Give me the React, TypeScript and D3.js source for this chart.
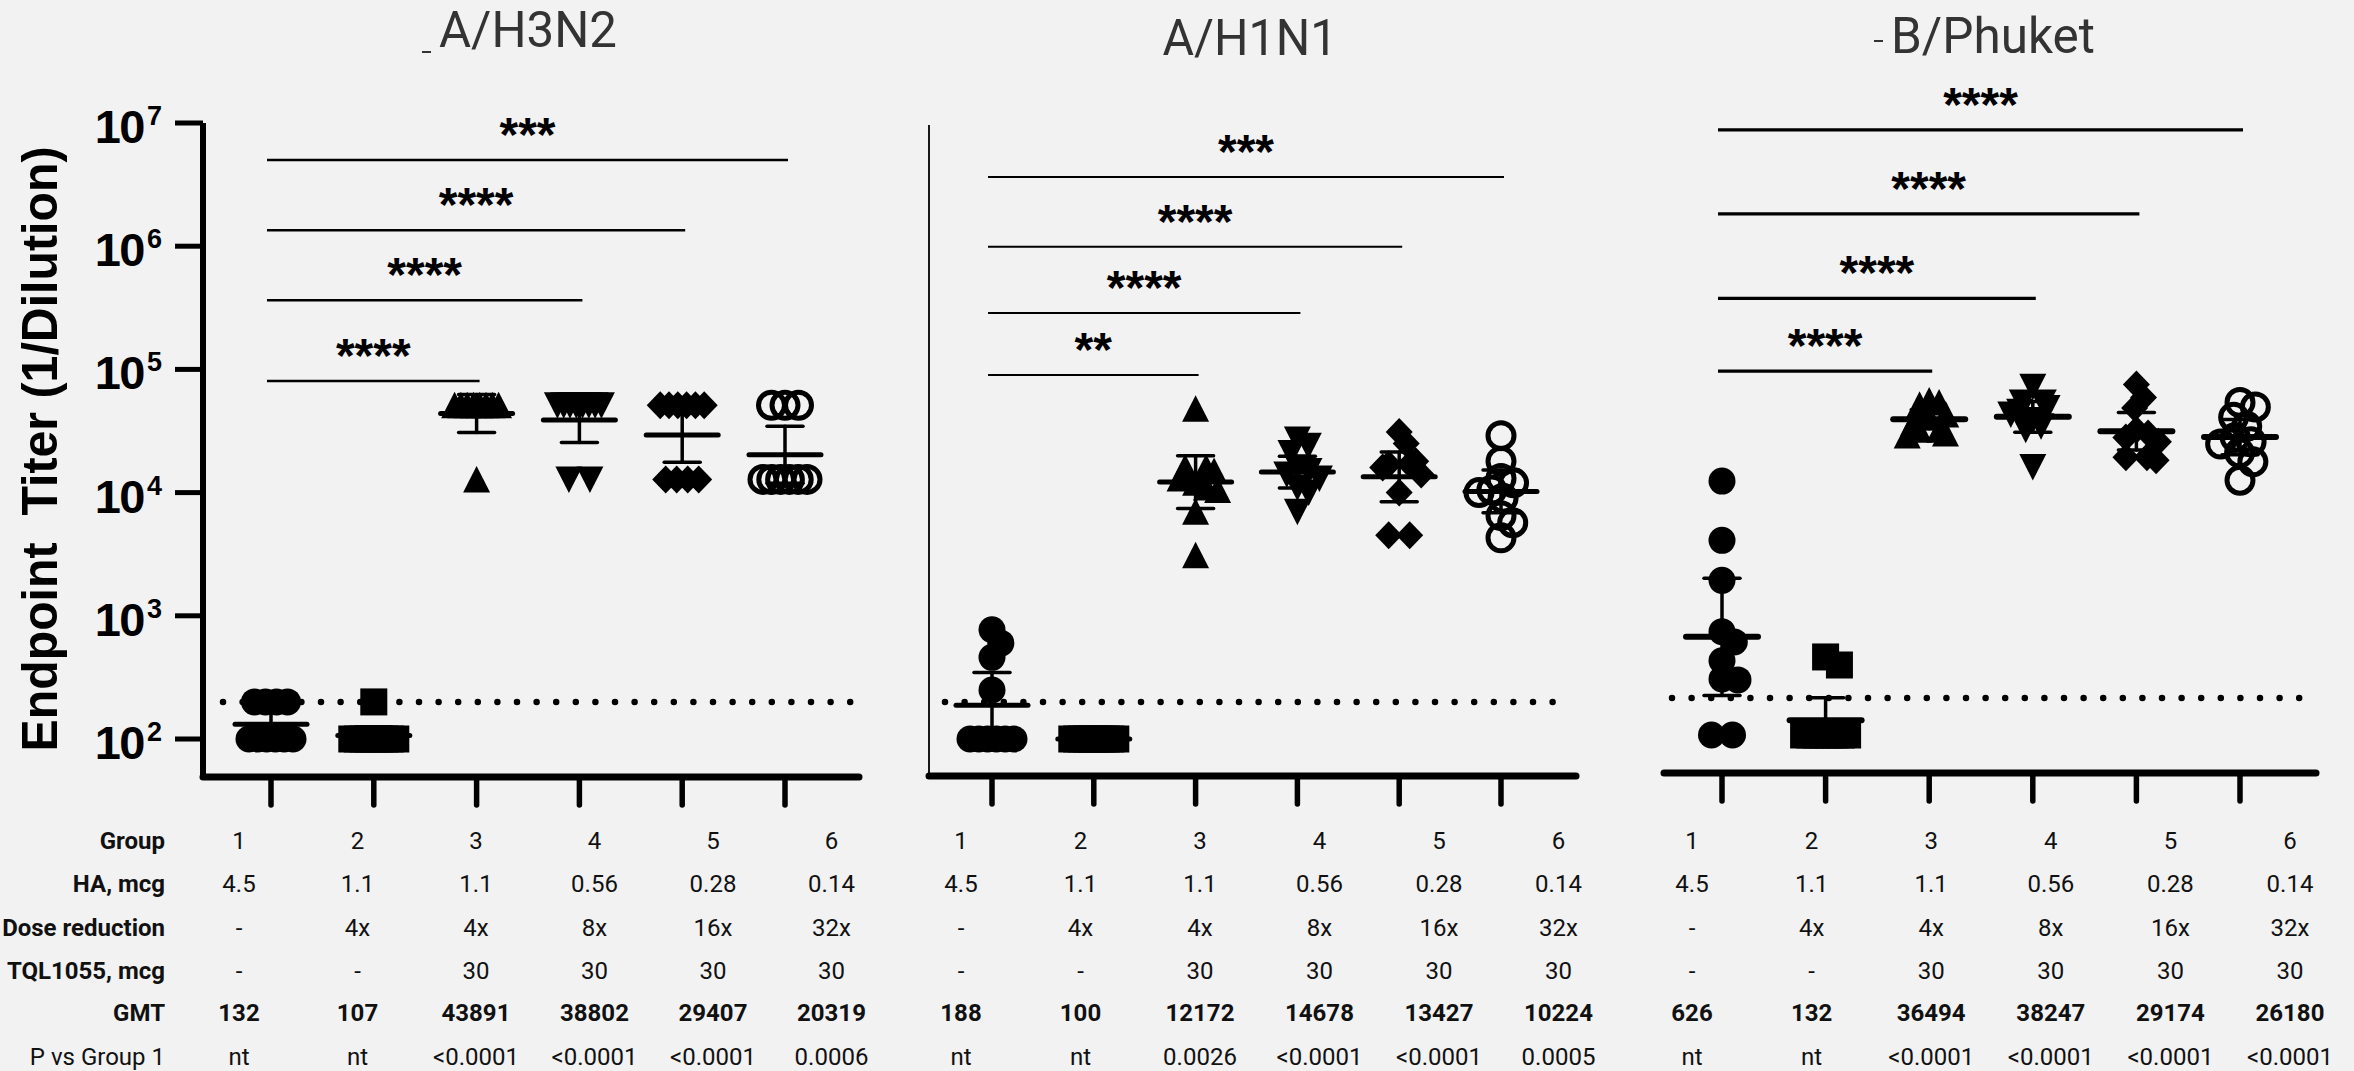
import React from 'react';
import * as d3 from 'd3';

// ---------- data ----------
const groupLabels = ['1', '2', '3', '4', '5', '6'];
const haMcg = ['4.5', '1.1', '1.1', '0.56', '0.28', '0.14'];
const doseReduction = ['-', '4x', '4x', '8x', '16x', '32x'];
const tql1055 = ['-', '-', '30', '30', '30', '30'];
const rowLabels = ['Group', 'HA, mcg', 'Dose reduction', 'TQL1055, mcg', 'GMT', 'P vs Group 1'];
const yTickValues = [1e2, 1e3, 1e4, 1e5, 1e6, 1e7];
const threshold = 200;

const h3n2Titers = [
  [200, 200, 200, 200, 100, 100, 100, 100, 100, 100],
  [200, 100, 100, 100, 100, 100, 100, 100, 100, 100],
  [51200, 51200, 51200, 51200, 51200, 51200, 51200, 51200, 12800],
  [51200, 51200, 51200, 51200, 51200, 51200, 51200, 51200, 12800, 12800],
  [51200, 51200, 51200, 51200, 51200, 51200, 12800, 12800, 12800, 12800],
  [51200, 51200, 51200, 12800, 12800, 12800, 12800, 12800, 12800],
];
const h3n2Gmt = [132, 107, 43891, 38802, 29407, 20319];
const h3n2P = ['nt', 'nt', '<0.0001', '<0.0001', '<0.0001', '0.0006'];
const h3n2Stars = ['****', '****', '****', '***'];
const h3n2SigLevels = [8.05e4, 3.65e5, 1.35e6, 5.0e6];

const h1n1Titers = [
  [770, 600, 460, 250, 100, 100, 100, 100, 100, 100],
  [100, 100, 100, 100, 100, 100, 100, 100, 100, 100],
  [48000, 16000, 16000, 15000, 13000, 12000, 11000, 10500, 7000, 3100],
  [27000, 24000, 21000, 16000, 15000, 14000, 13000, 11000, 10000, 7000],
  [31000, 25000, 18000, 17000, 17000, 16000, 14000, 10000, 4500, 4500],
  [29000, 18000, 13000, 12000, 10500, 10000, 9000, 6500, 5700, 4300],
];
const h1n1Gmt = [188, 100, 12172, 14678, 13427, 10224];
const h1n1P = ['nt', 'nt', '0.0026', '<0.0001', '<0.0001', '0.0005'];
const h1n1Stars = ['**', '****', '****', '***'];
const h1n1SigLevels = [9.0e4, 2.87e5, 9.9e5, 3.65e6];

const phuketTiters = [
  [11500, 3800, 1800, 690, 570, 400, 285, 280, 100, 100],
  [430, 370, 100, 100, 100, 100, 100, 100, 100, 100],
  [52000, 50000, 48000, 40000, 38000, 34000, 30000, 30000, 28000, 27000],
  [67000, 50000, 50000, 45000, 42000, 40000, 36000, 32000, 30000, 15000],
  [70000, 55000, 45000, 30000, 28000, 26000, 24000, 18000, 18000, 17000],
  [50000, 46000, 38000, 32000, 26000, 24000, 23000, 19500, 16500, 11700],
];
const phuketGmt = [626, 132, 36494, 38247, 29174, 26180];
const phuketP = ['nt', 'nt', '<0.0001', '<0.0001', '<0.0001', '<0.0001'];
const phuketStars = ['****', '****', '****', '****'];
const phuketSigLevels = [9.0e4, 3.5e5, 1.7e6, 8.15e6];

const symbols = ['circle', 'square', 'triangle', 'triangleDown', 'diamond', 'openCircle'];
const tCrit = [0, 12.706, 4.303, 3.182, 2.776, 2.571, 2.447, 2.365, 2.306, 2.262, 2.228, 2.201];

// ---------- layout ----------
const W = 2354;
const H = 1071;
const DECADE = 123.2;
const INK = '#000';
const panels = [
  {
    title: 'A/H3N2', titleX: 528, titleY: 47, titleLen: 178, mark: [422, 431, 52],
    titers: h3n2Titers, gmt: h3n2Gmt, p: h3n2P, stars: h3n2Stars, sig: h3n2SigLevels,
    x0: 271, x1: 785, y100: 739, axisY: 777, axisL: 203, axisR: 859, yAxis: 'thick', yTop: 123,
    dot: [223, 851], tx0: 239, tdx: 118.5, sigW: 2.5, barW: 5, packSingles: true,
  },
  {
    title: 'A/H1N1', titleX: 1250, titleY: 55, titleLen: 175, mark: null,
    titers: h1n1Titers, gmt: h1n1Gmt, p: h1n1P, stars: h1n1Stars, sig: h1n1SigLevels,
    x0: 992, x1: 1501, y100: 739, axisY: 776, axisL: 929, axisR: 1576, yAxis: 'thin', yTop: 125,
    dot: [945, 1567], tx0: 961, tdx: 119.5, sigW: 2, barW: 5, packSingles: true,
  },
  {
    title: 'B/Phuket', titleX: 1993, titleY: 53, titleLen: 204, mark: [1874, 1883, 41],
    titers: phuketTiters, gmt: phuketGmt, p: phuketP, stars: phuketStars, sig: phuketSigLevels,
    x0: 1722, x1: 2240, y100: 735, axisY: 773, axisL: 1664, axisR: 2316, yAxis: 'none', yTop: 130,
    dot: [1672, 2307], tx0: 1692, tdx: 119.6, sigW: 3.3, barW: 6, packSingles: true,
  },
];

type Pt = { v: number; y: number; dx: number; single: boolean };

function layoutPoints(vals: number[], y: (v: number) => number): Pt[] {
  const counts = d3.rollup(vals, (g) => g.length, (v) => v);
  const placed: Pt[] = [];
  for (const [v, k] of counts) {
    if (k > 1) {
      const hw = Math.min(22, 3 * k + 4.5);
      for (let i = 0; i < k; i++) placed.push({ v, y: y(v), dx: -hw + (2 * hw * i) / (k - 1), single: false });
    }
  }
  const singles = vals.filter((v) => counts.get(v) === 1).sort((a, b) => b - a);
  const D = 16;
  for (const v of singles) {
    const py = y(v);
    const cands = [0];
    for (const q of placed) {
      const dy = Math.abs(q.y - py);
      if (dy < D) {
        const dx = Math.sqrt(D * D - dy * dy);
        cands.push(q.dx + dx, q.dx - dx);
      }
    }
    cands.sort((a, b) => Math.abs(a) - Math.abs(b) || b - a);
    const best = cands.find((c) => placed.every((q) => (c - q.dx) ** 2 + (q.y - py) ** 2 >= D * D - 0.01)) ?? 0;
    placed.push({ v, y: py, dx: best, single: true });
  }
  const m = d3.max(placed.filter((p) => p.single), (p) => Math.abs(p.dx)) || 0;
  if (m > 22) placed.forEach((p) => { if (p.single) p.dx *= 22 / m; });
  return placed;
}

function Marker({ type, x, y }: { type: string; x: number; y: number }) {
  switch (type) {
    case 'circle':
      return <circle cx={x} cy={y} r={13.5} fill={INK} />;
    case 'square':
      return <rect x={x - 13.5} y={y - 13.5} width={27} height={27} fill={INK} />;
    case 'triangle':
      return <path d={`M${x},${y - 13.5}L${x + 13.5},${y + 13}L${x - 13.5},${y + 13}Z`} fill={INK} />;
    case 'triangleDown':
      return <path d={`M${x},${y + 13.5}L${x + 13.5},${y - 13}L${x - 13.5},${y - 13}Z`} fill={INK} />;
    case 'diamond':
      return <path d={`M${x},${y - 14}L${x + 13.5},${y}L${x},${y + 14}L${x - 13.5},${y}Z`} fill={INK} />;
    default:
      return <circle cx={x} cy={y} r={13} fill="none" stroke={INK} strokeWidth={5} />;
  }
}

function Panel({ cfg }: { cfg: (typeof panels)[number] }) {
  const x = d3.scaleLinear().domain([1, 6]).range([cfg.x0, cfg.x1]);
  const y = d3.scaleLog().domain([1e2, 1e7]).range([cfg.y100, cfg.y100 - 5 * DECADE]);
  const tableX = d3.scaleLinear().domain([0, 1]).range([cfg.tx0, cfg.tx0 + cfg.tdx]);
  const rows = [groupLabels, haMcg, doseReduction, tql1055, cfg.gmt.map(String), cfg.p];
  const rowY = [849, 892, 936, 979, 1021, 1065];

  return (
    <g>
      <text x={cfg.titleX} y={cfg.titleY} textAnchor="middle" fontFamily="Roboto" fontSize={50}
        fill="#333" textLength={cfg.titleLen} lengthAdjust="spacingAndGlyphs">{cfg.title}</text>
      {cfg.mark && (
        <line x1={cfg.mark[0]} x2={cfg.mark[1]} y1={cfg.mark[2]} y2={cfg.mark[2]} stroke="#333" strokeWidth={2} />
      )}

      {/* axes */}
      {cfg.yAxis === 'thick' && (
        <g>
          <line x1={cfg.axisL} x2={cfg.axisL} y1={y(1e7)} y2={cfg.axisY + 2} stroke={INK} strokeWidth={6} />
          {yTickValues.map((t) => (
            <g key={t}>
              <line x1={cfg.axisL - 28} x2={cfg.axisL} y1={y(t)} y2={y(t)} stroke={INK} strokeWidth={5} />
              <text x={144} y={y(t) + 20} textAnchor="end" fontFamily="Liberation Sans" fontWeight="bold"
                fontSize={47} letterSpacing={-1.5}>10</text>
              <text x={147} y={y(t) + 2} fontFamily="Liberation Sans" fontWeight="bold" fontSize={27}>
                {Math.round(Math.log10(t))}
              </text>
            </g>
          ))}
        </g>
      )}
      {cfg.yAxis === 'thin' && (
        <line x1={cfg.axisL} x2={cfg.axisL} y1={cfg.yTop} y2={cfg.axisY} stroke={INK} strokeWidth={1.8} />
      )}
      <line x1={cfg.axisL} x2={cfg.axisR} y1={cfg.axisY} y2={cfg.axisY} stroke={INK} strokeWidth={7} strokeLinecap="round" />
      {groupLabels.map((g, i) => (
        <line key={g} x1={x(i + 1)} x2={x(i + 1)} y1={cfg.axisY} y2={cfg.axisY + 28} stroke={INK}
          strokeWidth={5.5} strokeLinecap="round" />
      ))}

      {/* threshold */}
      <line x1={cfg.dot[0]} x2={cfg.dot[1] + 1} y1={y(threshold)} y2={y(threshold)} stroke={INK} strokeWidth={6.5}
        strokeLinecap="round" strokeDasharray="0 19.6" />

      {/* points */}
      {cfg.titers.map((vals, gi) =>
        layoutPoints(vals, y).map((p, j) => (
          <Marker key={`${gi}-${j}`} type={symbols[gi]} x={x(gi + 1) + p.dx} y={p.y} />
        ))
      )}

      {/* GMT and 95% CI */}
      {cfg.titers.map((vals, gi) => {
        const logs = vals.map(Math.log10);
        const n = logs.length;
        const sd = d3.deviation(logs) || 0;
        const half = (tCrit[n - 1] * sd) / Math.sqrt(n);
        const c = Math.log10(cfg.gmt[gi]);
        const cx = x(gi + 1);
        const lo = y(10 ** (c - half));
        const hi = y(10 ** (c + half));
        return (
          <g key={`bar${gi}`} stroke={INK} strokeLinecap="round">
            <line x1={cx} x2={cx} y1={lo} y2={hi} strokeWidth={3.5} />
            {half > 0 && <line x1={cx - 18} x2={cx + 18} y1={lo} y2={lo} strokeWidth={3.5} />}
            {half > 0 && <line x1={cx - 18} x2={cx + 18} y1={hi} y2={hi} strokeWidth={3.5} />}
            <line x1={cx - 36} x2={cx + 36} y1={y(cfg.gmt[gi])} y2={y(cfg.gmt[gi])} strokeWidth={cfg.barW} />
          </g>
        );
      })}

      {/* significance */}
      {cfg.sig.map((lvl, k) => {
        const xa = x(1) - 4;
        const xb = x(k + 3) + 3;
        return (
          <g key={`sig${k}`}>
            <line x1={xa} x2={xb} y1={y(lvl)} y2={y(lvl)} stroke={INK} strokeWidth={cfg.sigW} />
            <text x={(xa + xb) / 2} y={y(lvl) - 9} textAnchor="middle" fontFamily="Liberation Sans"
              fontWeight="bold" fontSize={48}>{cfg.stars[k]}</text>
          </g>
        );
      })}

      {/* table */}
      {rows.map((row, r) =>
        row.map((t, i) => (
          <text key={`t${r}-${i}`} x={tableX(i)} y={rowY[r]} textAnchor="middle" fontFamily="Roboto"
            fontSize={24} fontWeight={r === 4 ? 'bold' : 'normal'} fill="#111">{t}</text>
        ))
      )}
    </g>
  );
}

export default function App() {
  const rowY = [849, 892, 936, 979, 1021, 1065];
  return (
    <svg width={W} height={H} style={{ position: 'absolute', left: 0, top: 0, display: 'block' }}>
      <rect width={W} height={H} fill="#f2f2f2" />
      <text transform="translate(57,449) rotate(-90)" textAnchor="middle" fontFamily="Liberation Sans"
        fontWeight="bold" fontSize={50} textLength={605} lengthAdjust="spacingAndGlyphs"
        style={{ whiteSpace: 'pre' }}>{'Endpoint  Titer (1/Dilution)'}</text>
      {rowLabels.map((l, r) => (
        <text key={l} x={165} y={rowY[r]} textAnchor="end" fontFamily="Roboto" fontSize={24}
          fontWeight={r === 5 ? 'normal' : 'bold'} fill="#111">{l}</text>
      ))}
      {panels.map((p) => <Panel key={p.title} cfg={p} />)}
    </svg>
  );
}
